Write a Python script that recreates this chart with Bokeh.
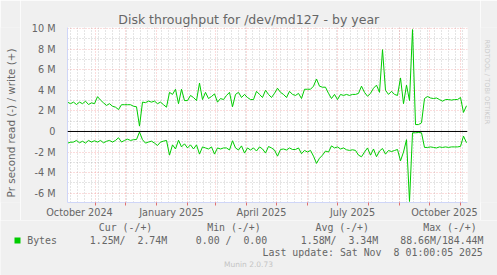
import pandas as pd
from bokeh.plotting import figure
from bokeh.layouts import column, row
from bokeh.models import (FixedTicker, Span, Label, BoxAnnotation, Range1d, ColumnDataSource)
from bokeh.embed import file_html
from bokeh.resources import INLINE

# ---------------- data ----------------
start_date = "2024-10-04"
end_date = "2025-11-08"
dates = pd.date_range(start_date, periods=134, freq="3D")

# write (+) bytes per second, millions
write_m = [
    2.85, 2.7, 2.85, 2.62, 2.85, 2.7, 2.94, 2.62, 2.78, 2.7,
    3.38, 3.05, 2.78, 2.53, 2.7, 2.45, 2.36, 2.13, 2.6, 2.6,
    2.6, 2.6, 2.45, 2.4, 0.52, 2.85, 2.8, 2.95, 2.85, 2.95,
    2.7, 2.85, 2.6, 2.36, 3.8, 3.6, 4.1, 2.7, 4.1, 3.0,
    3.0, 3.5, 3.3, 3.0, 4.7, 3.1, 3.8, 3.2, 3.4, 3.65,
    2.85, 3.2, 3.1, 3.5, 3.8, 2.4, 3.6, 3.8, 3.3, 3.6,
    3.3, 3.1, 3.1, 3.9, 3.6, 3.3, 4.0, 3.6, 3.3, 3.7,
    4.2, 3.8, 3.6, 3.3, 3.9, 3.6, 3.5, 3.7, 3.2, 4.1,
    4.1, 4.1, 4.4, 5.1, 4.4, 4.3, 4.3, 3.7, 3.2, 3.6,
    3.1, 3.6, 3.5, 3.6, 3.5, 3.6, 3.6, 3.7, 4.4, 3.8,
    3.42, 3.7, 4.2, 4.5, 3.8, 7.95, 4.0, 3.6, 3.9, 3.6,
    3.5, 5.2, 2.7, 4.5, 3.0, 9.9, 0.67, 0.67, 0.84, 3.2,
    3.4, 3.25, 3.2, 3.25, 3.1, 2.94, 3.1, 3.1, 3.05, 3.1,
    3.1, 3.3, 1.85, 2.5,
]
# read (-) bytes per second, millions
read_m = [
    1.13, 1.05, 1.03, 0.87, 1.1, 0.95, 1.13, 0.87, 1.03, 0.9,
    1.03, 0.87, 1.1, 0.95, 0.87, 1.03, 0.87, 0.61, 1.03, 0.87,
    0.75, 0.87, 0.8, 0.78, 0.06, 0.8, 1.13, 1.03, 0.94, 1.13,
    1.36, 1.03, 0.94, 0.87, 2.3, 1.3, 1.7, 0.85, 1.5, 1.2,
    1.6, 1.3, 1.7, 1.3, 2.2, 1.5, 1.6, 1.7, 1.5, 2.2,
    1.6, 1.7, 1.6, 1.6, 1.8, 0.9, 1.6, 1.8, 1.4, 2.1,
    1.6, 1.8, 1.6, 1.9, 1.5, 1.7, 2.1, 1.46, 1.6, 1.8,
    2.4, 1.75, 1.7, 1.8, 1.6, 1.75, 1.75, 1.6, 2.16, 1.84,
    2.0, 1.84, 2.4, 3.1, 2.6, 2.3, 1.9, 2.0, 1.4, 1.6,
    1.5, 1.7, 1.6, 1.78, 1.84, 1.78, 1.84, 2.3, 2.46, 2.0,
    1.6, 2.3, 1.7, 2.45, 1.9, 1.65, 2.2, 1.85, 1.95, 1.85,
    1.75, 2.85, 2.0, 0.8, 6.8, 0.13, 0.13, 0.1, 0.13, 1.55,
    1.55, 1.5, 1.55, 1.6, 1.5, 1.55, 1.5, 1.55, 1.5, 1.5,
    1.5, 1.45, 0.45, 1.1,
]

title_text = "Disk throughput for /dev/md127 - by year"
y_label = "Pr second read (-) / write (+)"
x_label_dates = ["2024-10-16", "2025-01-16", "2025-04-16", "2025-07-16", "2025-10-16"]
x_labels = ["October 2024", "January 2025", "April 2025", "July 2025", "October 2025"]
month_starts = pd.date_range("2024-11-01", "2025-11-01", freq="MS")
minor_dates = pd.date_range("2024-10-07", end_date, freq="7D")
y_ticks = [-6000000, -4000000, -2000000, 0, 2000000, 4000000, 6000000, 8000000, 10000000]
y_tick_labels = ["-6 M", "-4 M", "-2 M", "0", "2 M", "4 M", "6 M", "8 M", "10 M"]
y_minor = [-5000000, -3000000, -1000000, 1000000, 3000000, 5000000, 7000000, 9000000]
y_min, y_max = -6.9e6, 10.1e6

series_name = "Bytes"
col_headers = ["Cur (-/+)", "Min (-/+)", "Avg (-/+)", "Max (-/+)"]
col_values = [("1.25M/", "2.74M"), ("0.00 /", "0.00"), ("1.58M/", "3.34M"), ("88.66M/184.44M", None)]
last_update = ("Last update: Sat Nov", "8 01:00:05 2025")
watermark = "Munin 2.0.73"
rrd_mark = "RRDTOOL / TOBI OETIKER"

# ---------------- styling ----------------
W, H = 497, 275
TOP_H = 220          # height of the chart part
LEFT_W = 20          # left strip holding the y-axis title
SIDE_W = 17          # right strip holding the rrdtool mark
FL, FR, FT, FB = 67, 467, 27, 202
FONT = "DejaVu Sans"
MONO = "DejaVu Sans Mono"
TXT = "#666666"
GREEN = "#00CC00"
AXIS = "#CFD6F8"
BACK = "#F0F0F0"


def ms(d):
    return pd.Timestamp(d).value // 10**6


X0, X1 = ms(start_date), ms(end_date)

source = ColumnDataSource(dict(
    date=dates,
    write=[v * 1e6 for v in write_m],
    read=[-v * 1e6 for v in read_m],
))

p = figure(width=W - SIDE_W - LEFT_W, height=TOP_H, output_backend="svg", toolbar_location=None,
           x_axis_type="datetime",
           x_range=Range1d(X0, X1), y_range=Range1d(y_min, y_max),
           min_border_left=FL - LEFT_W, min_border_right=W - SIDE_W - FR,
           min_border_top=FT, min_border_bottom=TOP_H - FB)
p.border_fill_color = BACK
p.background_fill_color = "#FFFFFF"
p.outline_line_color = None

# title
p.title.text = title_text
p.title.align = "left"
p.title.offset = 50.8
p.title.text_font = FONT
p.title.text_font_size = "12.5px"
p.title.text_font_style = "normal"
p.title.text_color = TXT
p.title.standoff = 2

# grids (dotted)
p.xgrid.ticker = FixedTicker(ticks=[ms(d) for d in month_starts],
                             minor_ticks=[ms(d) for d in minor_dates])
p.ygrid.ticker = FixedTicker(ticks=y_ticks, minor_ticks=y_minor)
for g in (p.xgrid[0], p.ygrid[0]):
    g.grid_line_color = "#F08080"
    g.grid_line_alpha = 0.55
    g.grid_line_dash = "1 2"
    g.minor_grid_line_color = "#8C8C8C"
    g.minor_grid_line_alpha = 0.45
    g.minor_grid_line_dash = "1 2"

# x axis: labels mid-month, red marks at month starts
xa = p.xaxis[0]
xa.ticker = FixedTicker(ticks=[ms(d) for d in x_label_dates],
                        minor_ticks=[ms(d) for d in month_starts])
xa.major_label_overrides = {ms(d): t for d, t in zip(x_label_dates, x_labels)}
xa.major_tick_line_color = None
xa.major_tick_in = 0
xa.major_tick_out = 0
xa.minor_tick_in = 0
xa.minor_tick_out = 3
xa.minor_tick_line_color = "#E07070"
xa.axis_line_color = AXIS
xa.major_label_standoff = 1
xa.major_label_text_font = FONT
xa.major_label_text_font_size = "9.7px"
xa.major_label_text_color = TXT

# y axis
ya = p.yaxis[0]
ya.ticker = FixedTicker(ticks=y_ticks)
ya.major_label_overrides = {t: l for t, l in zip(y_ticks, y_tick_labels)}
ya.major_label_text_font = FONT
ya.major_label_text_font_size = "9.7px"
ya.major_label_text_color = TXT
ya.major_tick_line_color = None
ya.minor_tick_line_color = None
ya.major_label_standoff = 6
ya.axis_line_color = AXIS

# zero line + data
p.add_layout(Span(location=0, dimension="width", line_color="black", line_width=1))
p.line("date", "write", source=source, line_color=GREEN, line_width=1)
p.line("date", "read", source=source, line_color=GREEN, line_width=1)


def blank(width, height, x0, x1, y_top, y_bottom):
    f = figure(width=width, height=height, output_backend="svg", toolbar_location=None,
               title=None, x_axis_location=None, y_axis_location=None,
               x_range=Range1d(x0, x1), y_range=Range1d(y_bottom, y_top),
               min_border=0, min_border_left=0, min_border_right=0,
               min_border_top=0, min_border_bottom=0)
    f.background_fill_color = BACK
    f.border_fill_color = BACK
    f.outline_line_color = None
    f.grid.visible = False
    return f


# left strip with the y-axis title (canvas pixel coordinates)
left = blank(LEFT_W, TOP_H, 0, LEFT_W, 0, TOP_H)
left.add_layout(Label(x=10.5, y=120.0, text=y_label, text_font=FONT, text_font_size="10.4px",
                      text_color=TXT, text_align="center", text_baseline="middle",
                      angle=1.5707963))

# right strip with the rrdtool watermark (canvas pixel coordinates)
side = blank(SIDE_W, TOP_H, W - SIDE_W, W, 0, TOP_H)
side.add_layout(Label(x=486.5, y=15.0, text=rrd_mark, text_font=FONT, text_font_size="6.6px",
                      text_color="#CCCCCC", text_align="left", text_baseline="middle",
                      angle=-1.5707963))

# legend strip (canvas pixel coordinates)
leg = blank(W, H - TOP_H, 0, W, TOP_H, H)


def add_text(txt, cx, cy, size, font=MONO, color=TXT, align="left"):
    leg.add_layout(Label(x=cx, y=cy, text=txt, text_font=font, text_font_size=f"{size}px",
                         text_color=color, text_align=align, text_baseline="middle"))


for h, x0 in zip(col_headers, [98.3, 206.7, 315.0, 422.7]):
    add_text(h, x0, 227.3, 9.9)
add_text(series_name, 26.7, 239.7, 9.9)
leg.add_layout(BoxAnnotation(left=14, right=20, top=237, bottom=243,
                             fill_color=GREEN, fill_alpha=1.0, line_color=None))
for (a, b), (ra, rb) in zip(col_values, [(125.0, 166.7), (231.0, 266.7), (336.0, 377.7), (483.0, None)]):
    add_text(a, ra, 239.7, 9.9, align="right")
    if b is not None:
        add_text(b, rb, 239.7, 9.9, align="right")
add_text(last_update[0], 381.0, 251.7, 9.9, align="right")
add_text(last_update[1], 482.3, 251.7, 9.9, align="right")
add_text(watermark, 248.0, 264.0, 7.5, font=FONT, color="#C4C4C4", align="center")

layout = column(row(left, p, side, spacing=0), leg, spacing=0)
open("out.html", "w").write(file_html(layout, INLINE))
